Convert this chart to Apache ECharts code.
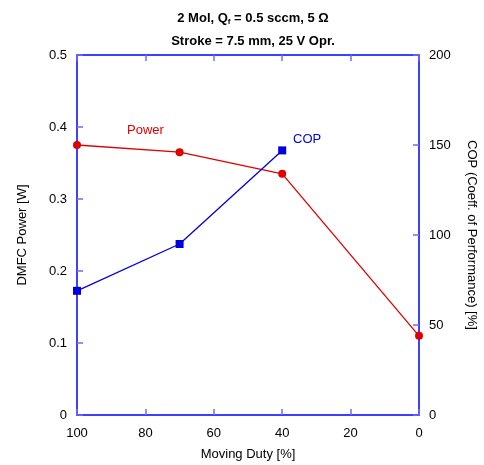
<!DOCTYPE html>
<html>
<head>
<meta charset="utf-8">
<script src="https://cdn.jsdelivr.net/npm/echarts@6/dist/echarts.min.js"></script>
<style>
  html, body { margin: 0; padding: 0; background: #fff; }
  #chart { width: 484px; height: 465px; }
</style>
</head>
<body>
<div id="chart"></div>
<script>
// Moving duty (%) and measured values
const duty = [100, 70, 40, 0];
const power = [0.375, 0.365, 0.335, 0.11];      // DMFC power [W]
const copDuty = [100, 70, 40];
const cop = [69, 95, 147];                        // COP [%]

const xTicks = [0, 20, 40, 60, 80, 100];
const powerTicks = [0, 0.1, 0.2, 0.3, 0.4, 0.5];
const copTicks = [0, 50, 100, 150, 200];

const FONT = 'Liberation Sans, Arial, sans-serif';
const AXIS_BLUE = '#0000ff';
const TICK_BLUE = '#6c6cff';

const chart = echarts.init(document.getElementById('chart'), null, { renderer: 'canvas' });

const commonTickLabel = { color: '#000', fontFamily: FONT, fontSize: 13 };
const axisLineStyle = { show: true, onZero: false, lineStyle: { color: AXIS_BLUE, width: 1.5 } };
const tickStyle = { show: true, inside: true, length: 6, lineStyle: { color: TICK_BLUE, width: 1.5 } };

chart.setOption({
  backgroundColor: '#fff',
  animation: false,
  title: [
    {
      text: '{b|2 Mol, Q}{s|f}{b| = 0.5 sccm, 5 Ω}',
      left: 248, top: 5, textAlign: 'center',
      textStyle: {
        rich: {
          b: { fontFamily: FONT, fontSize: 13, fontWeight: 'bold', color: '#000', lineHeight: 16 },
          s: { fontFamily: FONT, fontSize: 8, fontWeight: 'bold', color: '#000', padding: [8, 0, 0, 0], lineHeight: 16 }
        }
      }
    },
    {
      text: 'Stroke = 7.5 mm, 25 V Opr.',
      left: 248, top: 30, textAlign: 'center',
      textStyle: { fontFamily: FONT, fontSize: 13, fontWeight: 'bold', color: '#000' }
    }
  ],
  grid: { left: 77, right: 65, top: 55, bottom: 50, containLabel: false, outerBoundsMode: 'none' },
  xAxis: [
    {
      type: 'value', inverse: true, position: 'bottom',
      min: xTicks[0], max: xTicks[xTicks.length - 1], interval: 20,
      name: 'Moving Duty [%]', nameLocation: 'middle', nameGap: 33,
      nameTextStyle: { fontFamily: FONT, fontSize: 13, color: '#000' },
      axisLine: axisLineStyle,
      axisTick: tickStyle,
      axisLabel: { ...commonTickLabel, margin: 12 },
      splitLine: { show: false }
    },
    {
      type: 'value', inverse: true, position: 'top',
      min: xTicks[0], max: xTicks[xTicks.length - 1], interval: 20,
      axisLine: axisLineStyle,
      axisTick: tickStyle,
      axisLabel: { show: false },
      splitLine: { show: false }
    }
  ],
  yAxis: [
    {
      type: 'value', position: 'left',
      min: powerTicks[0], max: powerTicks[powerTicks.length - 1], interval: 0.1,
      name: 'DMFC Power [W]', nameLocation: 'middle', nameGap: 48, nameRotate: 90,
      nameTextStyle: { fontFamily: FONT, fontSize: 13, color: '#000' },
      axisLine: axisLineStyle,
      axisTick: tickStyle,
      axisLabel: { ...commonTickLabel, margin: 10, formatter: v => (v === 0 ? '0' : v.toFixed(1)) },
      splitLine: { show: false }
    },
    {
      type: 'value', position: 'right',
      min: copTicks[0], max: copTicks[copTicks.length - 1], interval: 50,
      name: 'COP (Coeff. of Performance) [%]', nameLocation: 'middle', nameGap: 46, nameRotate: -90,
      nameTextStyle: { fontFamily: FONT, fontSize: 13, color: '#000' },
      axisLine: axisLineStyle,
      axisTick: tickStyle,
      axisLabel: { ...commonTickLabel, margin: 10 },
      splitLine: { show: false }
    }
  ],
  series: [
    {
      name: 'Power', type: 'line', xAxisIndex: 0, yAxisIndex: 0,
      data: duty.map((d, i) => [d, power[i]]),
      symbol: 'circle', symbolSize: 8,
      lineStyle: { color: '#e00000', width: 1.3 },
      itemStyle: { color: '#e00000' },
      label: { show: false }
    },
    {
      name: 'COP', type: 'line', xAxisIndex: 0, yAxisIndex: 1,
      data: copDuty.map((d, i) => [d, cop[i]]),
      symbol: 'rect', symbolSize: 8,
      lineStyle: { color: '#0000e0', width: 1.3 },
      itemStyle: { color: '#0000e0' },
      label: { show: false }
    }
  ],
  graphic: [
    { type: 'text', left: 127, top: 124, style: { text: 'Power', fill: '#e00000', font: '13px ' + FONT } },
    { type: 'text', left: 293, top: 133, style: { text: 'COP', fill: '#0000e0', font: '13px ' + FONT } }
  ]
});
</script>
</body>
</html>
